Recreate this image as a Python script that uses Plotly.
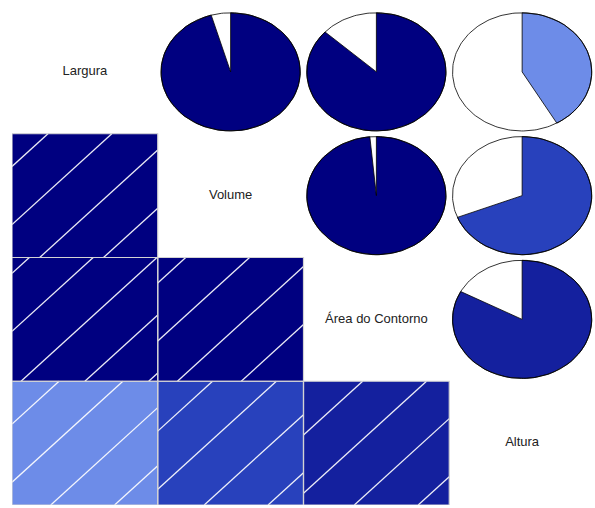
import math
import numpy as np
import plotly.graph_objects as go

# Variables on the diagonal, top-left to bottom-right
labels = ["Largura", "Volume", "Área do Contorno", "Altura"]

# Pairwise correlations: (first variable index, second variable index, r)
pair_first = [0, 0, 0, 1, 1, 2]
pair_second = [1, 2, 3, 2, 3, 3]
corr_values = [0.955, 0.868, 0.417, 0.985, 0.690, 0.828]

n = len(labels)
R = np.eye(n)
for a, b, r in zip(pair_first, pair_second, corr_values):
    R[a, b] = R[b, a] = r

# Diverging palette red -> salmon -> white -> royalblue -> navy, 14 bins
anchors = [(255, 0, 0), (250, 128, 114), (255, 255, 255), (65, 105, 225), (0, 0, 128)]
N_BINS = 14


def ramp(m):
    cols = []
    for k in range(m):
        p = k / (m - 1) * (len(anchors) - 1)
        s = min(int(p), len(anchors) - 2)
        t = p - s
        c = [round(anchors[s][q] + (anchors[s + 1][q] - anchors[s][q]) * t) for q in range(3)]
        cols.append("#%02X%02X%02X" % tuple(c))
    return cols


PAL = ramp(N_BINS)


def corr_color(r):
    idx = math.ceil((r + 1) / 2 * N_BINS)
    idx = min(max(idx, 1), N_BINS)
    return PAL[idx - 1]


fig = go.Figure()

# ---- lower triangle: shaded squares with diagonal hatching ----
HATCH_SLOPE = 1.072      # rise per unit run inside a cell
HATCH_STEP = 0.438       # horizontal spacing between hatch lines
hatch_phase = {(1, 0): 0.19, (2, 0): 0.062, (2, 1): 0.135,
               (3, 0): 0.266, (3, 1): 0.319, (3, 2): 0.349}

hx, hy = [], []
bx, by = [], []
for i in range(n):
    for j in range(i):
        r = R[i, j]
        x0, x1 = j, j + 1
        ytop, ybot = i, i + 1
        fig.add_trace(go.Scatter(
            x=[x0, x1, x1, x0, x0], y=[ytop, ytop, ybot, ybot, ytop],
            mode="lines", fill="toself", fillcolor=corr_color(r),
            line=dict(width=0, color=corr_color(r)), hoverinfo="skip"))
        # hatch lines (rising for positive, falling for negative r)
        ph = hatch_phase.get((i, j), 0.0)
        for m in range(-5, 6):
            u0 = ph + m * HATCH_STEP
            ua = max(0.0, u0)
            ub = min(1.0, u0 + 1.0 / HATCH_SLOPE)
            if ub <= ua:
                continue
            va = HATCH_SLOPE * (ua - u0)
            vb = HATCH_SLOPE * (ub - u0)
            if r < 0:
                ua, ub = 1 - ua, 1 - ub
            hx += [x0 + ua, x0 + ub, None]
            hy += [ybot - va, ybot - vb, None]
        bx += [x0, x1, x1, x0, x0, None]
        by += [ytop, ytop, ybot, ybot, ytop, None]

fig.add_trace(go.Scatter(x=hx, y=hy, mode="lines",
                         line=dict(color="rgba(255,255,255,0.92)", width=1.3),
                         hoverinfo="skip"))
fig.add_trace(go.Scatter(x=bx, y=by, mode="lines",
                         line=dict(color="#D3D3D3", width=1.2),
                         hoverinfo="skip"))

# ---- upper triangle: pies ----
RAD = 0.955 * 0.5
for i in range(n):
    for j in range(i + 1, n):
        r = R[i, j]
        cx, cy = j + 0.5, i + 0.5
        segs = int(round(60 * abs(r)))
        if segs > 0:
            th = np.linspace(math.pi / 2, math.pi / 2 - 2 * math.pi * r, segs)
            px = list(cx + RAD * np.cos(th)) + [cx, cx + RAD * math.cos(th[0])]
            py = list(cy - RAD * np.sin(th)) + [cy, cy - RAD * math.sin(th[0])]
            fig.add_trace(go.Scatter(
                x=px, y=py, mode="lines", fill="toself", fillcolor=corr_color(r),
                line=dict(color="#000000", width=0.8), hoverinfo="skip"))
        t = np.linspace(0, 2 * math.pi, 200)
        fig.add_trace(go.Scatter(
            x=cx + RAD * np.cos(t), y=cy - RAD * np.sin(t), mode="lines",
            line=dict(color="#000000", width=0.8), hoverinfo="skip"))

# ---- diagonal: variable names ----
fig.add_trace(go.Scatter(
    x=[k + 0.5 for k in range(n)], y=[k + 0.5 for k in range(n)],
    mode="text", text=labels,
    textfont=dict(family="Liberation Sans, Arial, sans-serif", size=13, color="#222222"),
    hoverinfo="skip"))

fig.update_layout(
    width=595, height=508,
    margin=dict(l=12, r=0, t=10, b=3),
    paper_bgcolor="white", plot_bgcolor="white",
    showlegend=False,
    xaxis=dict(range=[0, n], visible=False, fixedrange=True),
    yaxis=dict(range=[n, 0], visible=False, fixedrange=True),
)

fig.write_html("out.html")
